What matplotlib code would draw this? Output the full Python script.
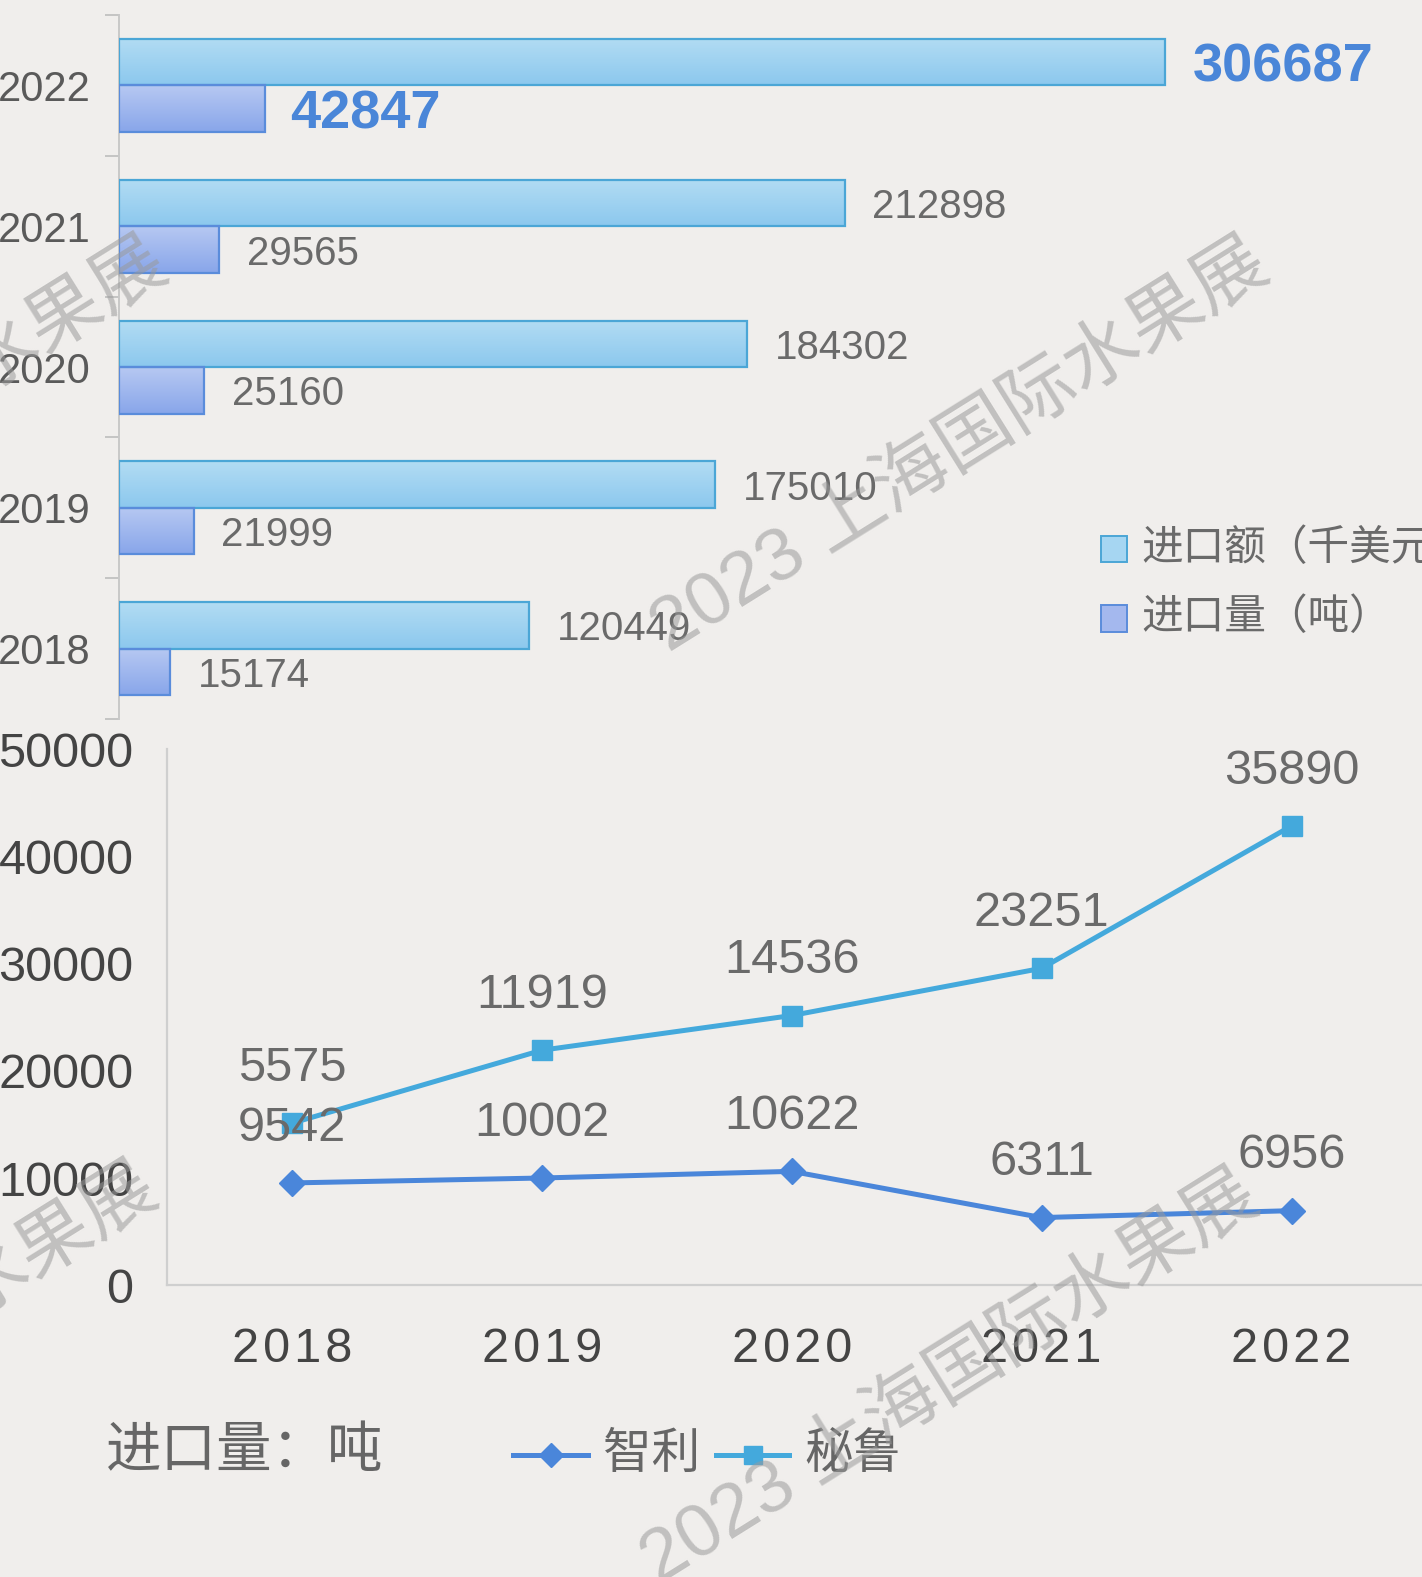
import matplotlib
matplotlib.use("Agg")
import matplotlib.pyplot as plt
import numpy as np
from matplotlib.lines import Line2D
from matplotlib.colors import LinearSegmentedColormap

plt.rcParams['font.family'] = ['Liberation Sans', 'Noto Sans CJK SC', 'DejaVu Sans']

# ── data ────────────────────────────────────────────────────────────────
years = ["2018", "2019", "2020", "2021", "2022"]
amount = [120449, 175010, 184302, 212898, 306687]     # 进口额（千美元）
volume = [15174, 21999, 25160, 29565, 42847]          # 进口量（吨）
chile = [9542, 10002, 10622, 6311, 6956]              # 智利
peru = [5575, 11919, 14536, 23251, 35890]             # 秘鲁
y_ticks = [0, 10000, 20000, 30000, 40000, 50000]

BG = "#F0EEEC"
W, H = 1422, 1577
S = 1422 / 1414  # positions


def rect(l, t, r, b):
    l, t, r, b = l * S, t * S, r * S, b * S
    return [l / W, 1 - b / H, (r - l) / W, (b - t) / H]


def fxy(x, y):
    return x * S / W, 1 - y * S / H


fig = plt.figure(figsize=(14.22, 15.77), dpi=100)
fig.patch.set_facecolor(BG)

# ── top: horizontal bars ────────────────────────────────────────────────
ax1 = fig.add_axes(rect(118, 15, 1414, 715))
ax1.set_facecolor("none")
xmax = max(amount) * (1414 - 118) / (1158 - 118)
pos = np.arange(len(years))
bh = 0.33

grad_a = LinearSegmentedColormap.from_list("ga", ["#8CC8EE", "#B2DCF3"])
grad_v = LinearSegmentedColormap.from_list("gv", ["#88A6EA", "#B7C8F2"])
g = np.linspace(0, 1, 64).reshape(-1, 1)

for i in range(len(years)):
    ya = pos[i] + bh / 2
    yv = pos[i] - bh / 2
    ax1.imshow(g, cmap=grad_a, extent=[0, amount[i], ya - bh / 2, ya + bh / 2],
               origin="lower", aspect="auto", zorder=2)
    ax1.imshow(g, cmap=grad_v, extent=[0, volume[i], yv - bh / 2, yv + bh / 2],
               origin="lower", aspect="auto", zorder=2)
ax1.barh(pos + bh / 2, amount, height=bh, facecolor="none",
         edgecolor="#4BA6D6", linewidth=1.6, zorder=3)
ax1.barh(pos - bh / 2, volume, height=bh, facecolor="none",
         edgecolor="#5A8CDB", linewidth=1.6, zorder=3)

for i in range(len(years)):
    last = i == len(years) - 1
    kw = dict(fontsize=39, fontweight="bold", color="#4A86D8") if last else \
        dict(fontsize=29, color="#6A6A6A")
    ax1.annotate(str(amount[i]), (amount[i], pos[i] + bh / 2), xytext=(20, 0),
                 textcoords="offset points", ha="left", va="center_baseline", **kw)
    ax1.annotate(str(volume[i]), (volume[i], pos[i] - bh / 2), xytext=(18 if last else 20, 0),
                 textcoords="offset points", ha="left", va="center_baseline", **kw)

ax1.set_xlim(0, xmax)
ax1.set_ylim(-0.5, len(years) - 0.5)
ax1.set_xticks([])
ax1.set_yticks(np.arange(-0.5, len(years)), [""] * (len(years) + 1))
ax1.set_yticks(pos, years, minor=True)
ax1.tick_params(axis="y", which="major", length=10, color="#BDBDBD", width=1.2)
ax1.tick_params(axis="y", which="minor", length=0, pad=20, labelsize=30,
                labelcolor="#5A5A5A")
for s in ["top", "right", "bottom"]:
    ax1.spines[s].set_visible(False)
ax1.spines["left"].set_color("#C8C8C8")
ax1.spines["left"].set_linewidth(1.4)

# legend of bars (runs off the right edge like the original)
for (ty, fc, ec, lbl) in [(546, "#A6D6F2", "#4BA6D6", "进口额（千美元）"),
                          (615, "#A4B8EE", "#5A8CDB", "进口量（吨）")]:
    x0, y0 = fxy(1095, ty + 13)
    x1, y1 = fxy(1121, ty - 13)
    fig.patches.append(plt.Rectangle((x0, y0), x1 - x0, y1 - y0, transform=fig.transFigure,
                                     facecolor=fc, edgecolor=ec, lw=1.4))
    tx, tyf = fxy(1135, ty)
    fig.text(tx, tyf, lbl, fontsize=30, color="#6A6A6A", ha="left", va="center")

# ── bottom: stacked lines ───────────────────────────────────────────────
ax2 = fig.add_axes(rect(166, 745, 1414, 1278))
ax2.set_facecolor("none")
xi = np.arange(len(years))
peru_stack = [c + p for c, p in zip(chile, peru)]
c_chile, c_peru = "#4A86DA", "#44A9DC"
ax2.plot(xi, chile, color=c_chile, lw=3.6, marker="D", ms=13, zorder=4)
ax2.plot(xi, peru_stack, color=c_peru, lw=3.6, marker="s", ms=14, zorder=4)
for i in range(len(years)):
    ax2.annotate(str(chile[i]), (xi[i], chile[i]), xytext=(0, 43), textcoords="offset points",
                 ha="center", va="center_baseline", fontsize=35, color="#6A6A6A", zorder=5)
    ax2.annotate(str(peru[i]), (xi[i], peru_stack[i]), xytext=(0, 43), textcoords="offset points",
                 ha="center", va="center_baseline", fontsize=35, color="#6A6A6A", zorder=5)

ax2.set_xlim(-0.5, (1414 - 166) / 248.5 - 0.5)
ax2.set_ylim(0, 50000)
# slight letter spacing on the category labels
ax2.set_xticks(xi, ["\u200a".join(y) for y in years])
ax2.set_yticks(y_ticks, [str(v) for v in y_ticks])
ax2.tick_params(axis="x", length=0, pad=30, labelsize=35, labelcolor="#444444")
ax2.tick_params(axis="y", length=0, pad=24, labelsize=35, labelcolor="#444444")
for s in ["top", "right"]:
    ax2.spines[s].set_visible(False)
for s in ["left", "bottom"]:
    ax2.spines[s].set_color("#CFCFCF")
    ax2.spines[s].set_linewidth(1.6)

# unit label + legend
ux, uy = fxy(105, 1445)
fig.text(ux, uy, "进口量：吨", fontsize=40, color="#666666", ha="left", va="center")
for (lx0, lx1, mk, ms, col, lbl, tx) in [(510, 585, "D", 12, c_chile, "智利", 600),
                                         (712, 785, "s", 13, c_peru, "秘鲁", 800)]:
    a, yy = fxy(lx0, 1447)
    b, _ = fxy(lx1, 1447)
    fig.add_artist(Line2D([a, b], [yy, yy], transform=fig.transFigure, color=col, lw=3.6))
    m, _ = fxy((lx0 + lx1) / 2, 1447)
    fig.add_artist(Line2D([m], [yy], transform=fig.transFigure, color=col, marker=mk, ms=ms))
    t, _ = fxy(tx, 1447)
    fig.text(t, yy, lbl, fontsize=35, color="#666666", ha="left", va="center")

# ── watermarks ──────────────────────────────────────────────────────────
for (cx, cy) in [(955, 445), (-140, 445), (945, 1372), (-150, 1365)]:
    px, py = fxy(cx, cy)
    fig.text(px, py, "2023 上海国际水果展", fontsize=54, color="#9A9A9A", alpha=0.55,
             rotation=32, rotation_mode="anchor", ha="center", va="center", zorder=10)

fig.savefig("out.png", dpi=100, facecolor=BG)
